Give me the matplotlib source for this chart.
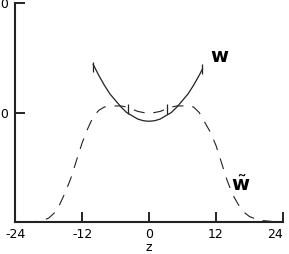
import matplotlib
matplotlib.use('Agg')
import matplotlib.pyplot as plt

# solid curve w
z_w = [-10, -9, -8, -7, -6, -5, -4, -3, -2, -1, 0, 1, 2, 3, 4, 5, 6, 7, 8, 9, 9.6]
w = [1.44, 1.34, 1.25, 1.17, 1.11, 1.05, 1.00, 0.97, 0.94, 0.925, 0.92,
     0.925, 0.94, 0.97, 1.00, 1.05, 1.11, 1.17, 1.25, 1.34, 1.40]

# dashed curve w~
z_wt = [-22, -20, -19, -18, -17, -16, -15, -14, -13, -12, -11, -10, -9, -8, -7, -6, -5,
        -4, -2, 0, 2, 4, 5, 6, 7, 8, 9, 10, 11, 12, 13, 14, 15, 16, 17, 18, 19, 20, 22, 23]
wt = [0.0, 0.005, 0.015, 0.035, 0.08, 0.16, 0.27, 0.40, 0.56, 0.72, 0.85, 0.96, 1.02,
      1.05, 1.06, 1.06, 1.06, 1.05, 1.01, 0.99, 1.01, 1.05, 1.06, 1.06, 1.06, 1.05,
      1.00, 0.91, 0.82, 0.70, 0.54, 0.38, 0.25, 0.16, 0.09, 0.05, 0.03, 0.015, 0.005, 0.0]

# small tick marks on the curves
mark_z = [-10, -3.8, 3.2, 9.5]
mark_v = [1.42, 1.03, 1.03, 1.40]

xticks = [-24, -12, 0, 12, 24]
xticklabels = ['-24', '-12', '0', '12', '24']
yticks = [0, 1, 2]
yticklabels = ['', '1.0', '2.0']

fig = plt.figure(figsize=(2.89, 2.54), dpi=100)
ax = fig.add_axes([0.052, 0.126, 0.927, 0.862])

ax.plot(z_w, w, color='#222222', lw=0.9)
ax.plot(z_wt, wt, color='#222222', lw=0.8, dashes=(10, 8))
ax.plot(mark_z, mark_v, ls='none', marker='|', ms=7, mew=0.9, color='#222222')

ax.text(12.6, 1.51, 'w', fontsize=14, fontweight='bold', ha='center', va='center')
ax.text(16.4, 0.34, r'$\mathbf{\tilde{w}}$', fontsize=14, ha='center', va='center')

ax.set_xlim(-24, 24)
ax.set_ylim(0, 2.0)
ax.set_xticks(xticks)
ax.set_xticklabels(xticklabels)
ax.set_yticks(yticks)
ax.set_yticklabels(yticklabels)
ax.tick_params(direction='in', length=7, width=1.2, labelsize=9)
ax.tick_params(axis='x', pad=4)
ax.tick_params(axis='y', pad=4)
ax.get_xticklabels()[-1].set_ha('right')
ax.set_xlabel('z', fontsize=9, labelpad=0)

for s in ['top', 'right']:
    ax.spines[s].set_visible(False)
for s in ['left', 'bottom']:
    ax.spines[s].set_linewidth(1.5)
    ax.spines[s].set_color('#222222')

fig.savefig('out.png', dpi=100)
